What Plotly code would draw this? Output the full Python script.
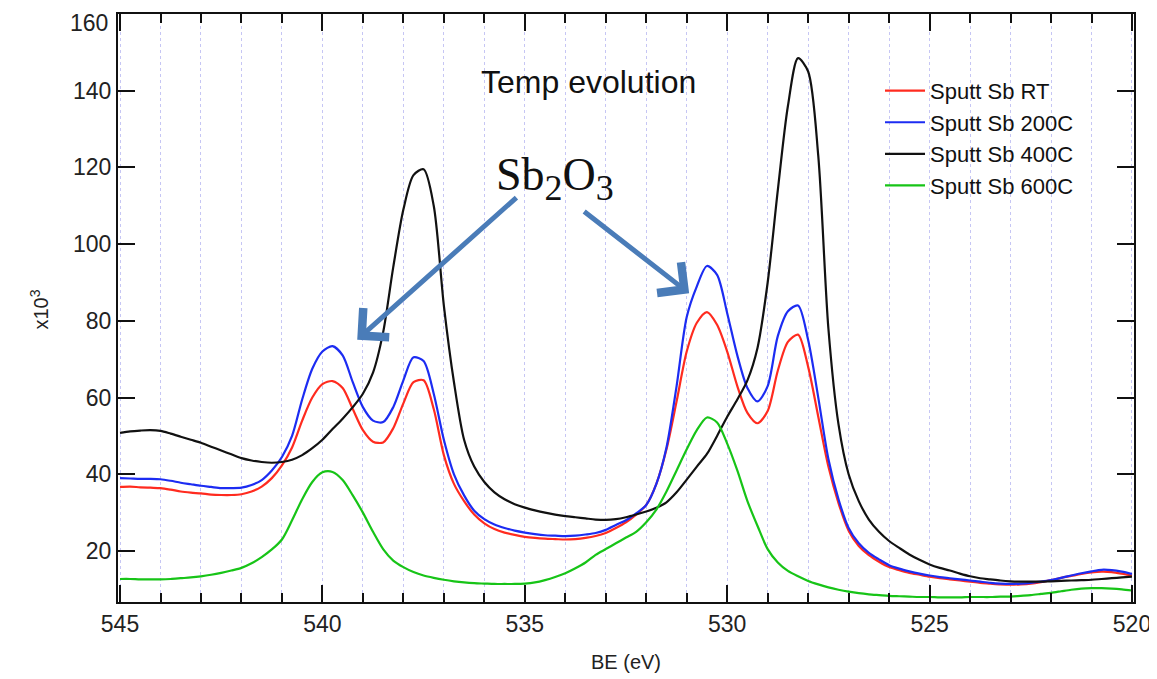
import plotly.graph_objects as go

# Binding energy grid (eV)
BE = [545.00, 544.75, 544.50, 544.25, 544.00, 543.75, 543.50, 543.25, 543.00, 542.75,
      542.50, 542.25, 542.00, 541.75, 541.50, 541.25, 541.00, 540.75, 540.50, 540.25,
      540.00, 539.75, 539.50, 539.25, 539.00, 538.75, 538.50, 538.25, 538.00, 537.75,
      537.50, 537.25, 537.00, 536.75, 536.50, 536.25, 536.00, 535.75, 535.50, 535.25,
      535.00, 534.75, 534.50, 534.25, 534.00, 533.75, 533.50, 533.25, 533.00, 532.75,
      532.50, 532.25, 532.00, 531.75, 531.50, 531.25, 531.00, 530.75, 530.50, 530.25,
      530.00, 529.75, 529.50, 529.25, 529.00, 528.75, 528.50, 528.25, 528.00, 527.75,
      527.50, 527.25, 527.00, 526.75, 526.50, 526.25, 526.00, 525.75, 525.50, 525.25,
      525.00, 524.75, 524.50, 524.25, 524.00, 523.75, 523.50, 523.25, 523.00, 522.75,
      522.50, 522.25, 522.00, 521.75, 521.50, 521.25, 521.00, 520.75, 520.50, 520.25,
      520.00]

# Intensities (x10^3)
sb_rt = [36.7, 36.8, 36.6, 36.5, 36.4, 36.0, 35.5, 35.2, 35.0, 34.7,
         34.6, 34.6, 34.8, 35.5, 36.8, 39.0, 42.3, 47.0, 54.0, 60.0,
         63.5, 64.3, 62.5, 57.0, 51.5, 48.5, 48.3, 52.0, 58.5, 64.0,
         64.5, 57.0, 45.0, 37.5, 33.0, 29.5, 27.2, 25.7, 24.8, 24.2,
         23.7, 23.4, 23.2, 23.1, 23.0, 23.1, 23.4, 23.9, 24.7, 26.0,
         27.5, 29.5, 32.0, 37.5, 46.5, 59.0, 72.0, 79.5, 82.3, 79.0,
         72.0, 63.0, 56.0, 53.3, 56.5, 67.0, 74.5, 76.4, 68.0, 55.0,
         42.0, 32.5, 25.3, 21.3, 18.9, 17.2, 15.8, 15.0, 14.3, 13.8,
         13.3, 12.9, 12.6, 12.3, 12.0, 11.7, 11.5, 11.3, 11.2, 11.3,
         11.5, 11.9, 12.4, 13.0, 13.5, 14.0, 14.4, 14.6, 14.5, 14.1,
         13.6]

sb_200 = [39.0, 38.9, 38.8, 38.8, 38.7, 38.3, 37.8, 37.4, 37.0, 36.7,
          36.4, 36.4, 36.5, 37.2, 38.5, 41.0, 44.5, 50.0, 59.5, 67.5,
          72.0, 73.4, 71.0, 64.0, 57.5, 54.0, 53.6, 57.5, 64.5, 70.5,
          69.5, 61.0, 49.0, 40.0, 34.5, 30.5, 28.3, 26.9, 26.0, 25.3,
          24.8, 24.4, 24.1, 24.0, 23.9, 24.0, 24.3, 24.7, 25.5, 26.8,
          28.0, 29.8, 32.0, 37.5, 47.0, 63.0, 81.0, 89.0, 94.3, 92.0,
          82.0, 71.0, 62.5, 59.0, 63.0, 76.0, 82.5, 84.0, 75.0, 60.0,
          44.0, 33.5, 26.0, 22.0, 19.5, 17.8, 16.3, 15.4, 14.7, 14.1,
          13.6, 13.2, 12.9, 12.6, 12.3, 12.0, 11.7, 11.5, 11.4, 11.5,
          11.7, 12.0, 12.4, 13.0, 13.6, 14.2, 14.7, 15.1, 15.0, 14.6,
          14.0]

sb_400 = [50.8, 51.2, 51.4, 51.5, 51.3, 50.6, 49.8, 49.0, 48.2, 47.2,
          46.2, 45.2, 44.2, 43.6, 43.2, 43.0, 43.2, 43.8, 45.0, 46.8,
          49.0, 51.8, 54.5, 57.5, 61.0, 66.5, 77.0, 94.0, 109.0, 118.0,
          119.5, 110.0, 84.0, 64.0, 49.0, 42.0, 38.0, 35.3, 33.5, 32.2,
          31.3, 30.6, 30.0, 29.5, 29.1, 28.8, 28.5, 28.2, 28.1, 28.3,
          28.8, 29.5, 30.3, 31.3, 32.7, 35.3, 38.6, 42.0, 45.3, 50.0,
          55.0, 59.5, 64.5, 73.0, 90.0, 114.0, 136.0, 148.5, 145.0, 123.0,
          78.0, 53.0, 40.0, 33.0, 28.2, 25.0, 22.6, 20.8, 19.1, 17.7,
          16.5, 15.6, 14.9, 14.1, 13.4, 12.9, 12.6, 12.3, 12.1, 12.0,
          12.0, 12.0, 12.1, 12.2, 12.3, 12.4, 12.5, 12.7, 12.9, 13.1,
          13.3]

sb_600 = [12.7, 12.7, 12.6, 12.6, 12.6, 12.7, 12.9, 13.1, 13.4, 13.8,
          14.3, 14.9, 15.6, 16.8, 18.4, 20.4, 23.0, 28.0, 33.5, 38.0,
          40.5, 40.6, 38.5, 34.5, 30.0, 25.0, 20.5, 17.5, 15.8, 14.5,
          13.6, 13.0, 12.5, 12.1, 11.8, 11.6, 11.5, 11.4, 11.4, 11.4,
          11.5, 11.8, 12.4, 13.2, 14.2, 15.5, 17.0, 19.0, 20.5, 22.0,
          23.5, 25.0, 27.5, 30.8, 35.5, 41.0, 46.5, 51.5, 54.8, 53.5,
          48.0, 41.0, 33.0, 26.5, 20.5, 17.0, 14.8, 13.4, 12.2, 11.3,
          10.5, 9.9, 9.4, 9.0, 8.7, 8.5, 8.3, 8.2, 8.1, 8.0,
          8.0, 7.9, 7.9, 7.9, 8.0, 8.0, 8.0, 8.1, 8.1, 8.3,
          8.5, 8.8, 9.1, 9.5, 9.9, 10.2, 10.3, 10.3, 10.2, 10.0,
          9.7]

series_names = ["Sputt Sb RT", "Sputt Sb 200C", "Sputt Sb 400C", "Sputt Sb 600C"]
series_data = [sb_rt, sb_200, sb_400, sb_600]
series_colors = ["#ff2b1f", "#1c2cf2", "#111111", "#17c417"]

x_major_ticks = [545, 540, 535, 530, 525, 520]
y_major_ticks = [20, 40, 60, 80, 100, 120, 140, 160]
# the top label (160) is drawn as an annotation so it is not clipped at the page edge
y_tick_text = ["20", "40", "60", "80", "100", "120", "140", ""]
y_top_label = "160"

fig = go.Figure()
for name, ys, col in zip(series_names, series_data, series_colors):
    fig.add_trace(go.Scatter(x=BE, y=ys, mode="lines", name=name,
                             line=dict(color=col, width=2.2, shape="spline", smoothing=0.8)))

grid_col = "#c6c6f4"
font_fam = "Liberation Sans, Arial, sans-serif"

# the page body adds an 8 px margin; the figure is offset accordingly
fig.update_layout(
    width=1149, height=671,
    margin=dict(l=110, r=23, t=6, b=77),
    paper_bgcolor="white", plot_bgcolor="white",
    showlegend=True,
    legend=dict(x=0.75, y=0.905, xanchor="left", yanchor="top",
                font=dict(family=font_fam, size=22, color="#111"),
                bgcolor="rgba(0,0,0,0)", tracegroupgap=0, itemwidth=40),
    xaxis=dict(range=[545.05, 519.95], tickmode="array", tickvals=x_major_ticks,
               automargin=False, ticklabeloverflow="allow",
               ticks="inside", ticklen=17, tickwidth=2, tickcolor="#111",
               showline=True, linewidth=2, linecolor="#111", mirror="ticks",
               showgrid=True, gridcolor=grid_col, griddash="dot", gridwidth=1,
               zeroline=False,
               tickfont=dict(family=font_fam, size=23, color="#222"),
               minor=dict(dtick=1, tick0=520, ticks="inside", ticklen=9, tickwidth=1.5,
                          tickcolor="#111", showgrid=True, gridcolor=grid_col,
                          griddash="dot", gridwidth=1)),
    yaxis=dict(range=[6.7, 160], tickmode="array", tickvals=y_major_ticks,
               ticktext=y_tick_text,
               automargin=False, ticklabeloverflow="allow",
               ticks="inside", ticklen=17, tickwidth=2, tickcolor="#111",
               showline=True, linewidth=2, linecolor="#111", mirror="ticks",
               showgrid=False, zeroline=False,
               tickfont=dict(family=font_fam, size=23, color="#222")),
)

arrow_col = "#4a7cb8"
annotations = [
    dict(text=y_top_label, xref="paper", yref="paper", x=0, y=1,
         xanchor="right", yanchor="top", xshift=-8, yshift=6, showarrow=False,
         font=dict(family=font_fam, size=23, color="#222")),
    dict(text="Temp evolution", xref="paper", yref="paper", x=0.4626, y=0.884,
         showarrow=False, font=dict(family=font_fam, size=32, color="#111"),
         xanchor="center", yanchor="middle"),
    dict(text="Sb<sub><span style='font-size:36px'>2</span></sub>O<sub><span style='font-size:36px'>3</span></sub>",
         xref="paper", yref="paper", x=0.43, y=0.72,
         showarrow=False, font=dict(family="Liberation Serif, serif", size=46, color="#111"),
         xanchor="center", yanchor="middle"),
    dict(text="x10<sup>3</sup>", xref="paper", yref="paper", x=-0.077, y=0.497,
         showarrow=False, textangle=-90, font=dict(family=font_fam, size=20, color="#222"),
         xanchor="center", yanchor="middle"),
    dict(text="BE (eV)", xref="paper", yref="paper", x=0.5, y=-0.102,
         showarrow=False, font=dict(family=font_fam, size=20, color="#222"),
         xanchor="center", yanchor="middle"),
    dict(text="", x=539.14, y=75.1, ax=535.17, ay=112.5, xref="x", yref="y",
         axref="x", ayref="y", showarrow=True, arrowhead=4, arrowsize=1.5,
         arrowwidth=5, arrowcolor=arrow_col, standoff=0, startstandoff=0),
    dict(text="", x=530.94, y=87.2, ax=533.57, ay=108.8, xref="x", yref="y",
         axref="x", ayref="y", showarrow=True, arrowhead=4, arrowsize=1.5,
         arrowwidth=5, arrowcolor=arrow_col, standoff=0, startstandoff=0),
]
fig.update_layout(annotations=annotations)

fig.write_html("out.html")
